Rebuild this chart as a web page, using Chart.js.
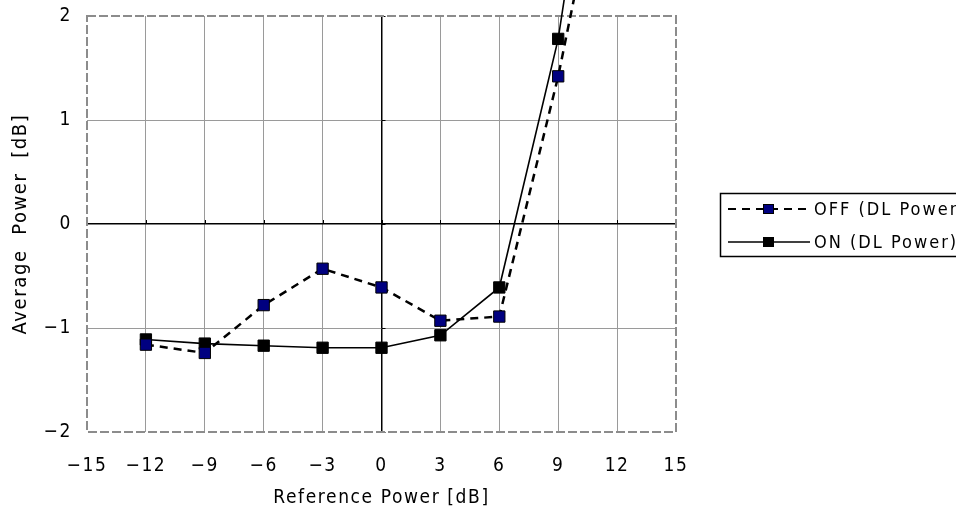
<!DOCTYPE html>
<html>
<head>
<meta charset="utf-8">
<script src="https://cdn.jsdelivr.net/npm/chart.js@4"></script>
<style>
  html, body { margin: 0; padding: 0; background: #fff; }
  #wrap { width: 956px; height: 511px; }
</style>
</head>
<body>
<div id="wrap"><canvas id="grafico"></canvas></div>
<script>
// dados
const potenciaRef = [-12, -9, -6, -3, 0, 3, 6, 9, 12];
const mediaOff = [-1.16, -1.24, -0.78, -0.43, -0.61, -0.93, -0.89, 1.42, 4.2];
const mediaOn = [-1.11, -1.15, -1.17, -1.19, -1.19, -1.07, -0.61, 1.78, 5.5];
const ticksX = [-15, -12, -9, -6, -3, 0, 3, 6, 9, 12, 15];
const ticksY = [-2, -1, 0, 1, 2];
const nomes = ["OFF (DL Power)", "ON (DL Power)"];

const fonte = '"Liberation Sans Narrow", "DejaVu Sans Condensed", "Noto Sans CJK JP", sans-serif';
const espaco = '1.6px';
const menos = v => String(v).replace('-', '\u2212');

const pontos = ys => potenciaRef.map((x, i) => ({ x: x, y: ys[i] }));

const corGrade = (ctx, limites) => {
    const v = ctx.tick.value;
    if (v === 0) return '#000';
    if (limites.includes(v)) return 'rgba(0,0,0,0)';
    return '#9a9a9a';
};

// moldura tracejada, marcas nos eixos e legenda
const extras = {
    id: 'extras',
    beforeLayout(chart) {
        chart.ctx.letterSpacing = espaco;
    },
    beforeDraw(chart) {
        chart.ctx.letterSpacing = espaco;
    },
    beforeDatasetsDraw(chart) {
        const { ctx, chartArea: a, scales } = chart;
        const x0 = scales.x.getPixelForValue(0);
        const y0 = scales.y.getPixelForValue(0);
        ctx.save();
        ctx.strokeStyle = '#000';
        ctx.lineWidth = 1;
        ticksY.forEach(v => {
            const y = Math.round(scales.y.getPixelForValue(v)) + 0.5;
            ctx.beginPath();
            ctx.moveTo(x0, y);
            ctx.lineTo(x0 + 4, y);
            ctx.stroke();
        });
        ticksX.forEach(v => {
            const x = Math.round(scales.x.getPixelForValue(v)) + 0.5;
            ctx.beginPath();
            ctx.moveTo(x, y0);
            ctx.lineTo(x, y0 - 4);
            ctx.stroke();
        });
        ctx.strokeStyle = '#8c8c8c';
        ctx.lineWidth = 2;
        ctx.setLineDash([9, 3]);
        ctx.strokeRect(a.left, a.top, a.right - a.left, a.bottom - a.top);
        ctx.restore();
    },
    afterDraw(chart) {
        const ctx = chart.ctx;
        ctx.save();
        ctx.strokeStyle = '#000';
        ctx.lineWidth = 1.5;
        ctx.strokeRect(720.5, 193.5, 250, 63);
        const linhas = [
            { y: 209, dash: [8, 6], lw: 2, cor: '#000080' },
            { y: 242, dash: [], lw: 1.5, cor: '#000' }
        ];
        linhas.forEach((l, i) => {
            ctx.setLineDash(l.dash);
            ctx.lineWidth = l.lw;
            ctx.beginPath();
            ctx.moveTo(728, l.y);
            ctx.lineTo(810, l.y);
            ctx.stroke();
            ctx.setLineDash([]);
            ctx.fillStyle = l.cor;
            ctx.lineWidth = 1;
            ctx.fillRect(763, l.y - 5, 11, 10);
            ctx.strokeRect(763.5, l.y - 4.5, 10, 9);
            ctx.fillStyle = '#000';
            ctx.font = '18px ' + fonte;
            ctx.letterSpacing = '2px';
            ctx.textBaseline = 'middle';
            ctx.fillText(nomes[i], 814, l.y + 1);
        });
        ctx.restore();
    }
};

new Chart(document.getElementById('grafico'), {
    type: 'scatter',
    data: {
        datasets: [
            {
                label: nomes[0],
                data: pontos(mediaOff),
                showLine: true,
                borderColor: '#000',
                borderWidth: 2.5,
                borderDash: [8, 6],
                pointStyle: 'rect',
                pointRadius: 8,
                pointBackgroundColor: '#000080',
                pointBorderColor: '#000',
                pointBorderWidth: 1,
                clip: { left: 0, right: 0, top: 16, bottom: 0 }
            },
            {
                label: nomes[1],
                data: pontos(mediaOn),
                showLine: true,
                borderColor: '#000',
                borderWidth: 1.6,
                pointStyle: 'rect',
                pointRadius: 8,
                pointBackgroundColor: '#000',
                pointBorderColor: '#000',
                pointBorderWidth: 1,
                clip: { left: 0, right: 0, top: 16, bottom: 0 }
            }
        ]
    },
    options: {
        responsive: true,
        maintainAspectRatio: false,
        animation: false,
        layout: { padding: { top: 16, right: 280, left: 0, bottom: 0 } },
        plugins: {
            legend: { display: false },
            tooltip: { enabled: false }
        },
        scales: {
            x: {
                type: 'linear',
                min: -15,
                max: 15,
                afterBuildTicks: s => { s.ticks = ticksX.map(v => ({ value: v })); },
                afterFit: s => { s.height = 79; s.paddingLeft = 0; s.paddingRight = 0; },
                ticks: {
                    color: '#000',
                    padding: 23,
                    maxRotation: 0,
                    font: { family: fonte, size: 19 },
                    callback: v => menos(v)
                },
                grid: {
                    drawTicks: false,
                    color: ctx => corGrade(ctx, [-15, 15]),
                    lineWidth: ctx => ctx.tick.value === 0 ? 1.5 : 1
                },
                border: { display: false },
                title: {
                    display: true,
                    text: 'Reference Power [dB]',
                    color: '#000',
                    font: { family: fonte, size: 19 },
                    padding: { top: 8, bottom: 2 }
                }
            },
            y: {
                type: 'linear',
                min: -2,
                max: 2,
                afterBuildTicks: s => { s.ticks = ticksY.map(v => ({ value: v })); },
                afterFit: s => { s.width = 87; s.paddingTop = 0; s.paddingBottom = 0; },
                ticks: {
                    color: '#000',
                    padding: 15,
                    font: { family: fonte, size: 19 },
                    callback: v => menos(v)
                },
                grid: {
                    drawTicks: false,
                    color: ctx => corGrade(ctx, [-2, 2]),
                    lineWidth: ctx => ctx.tick.value === 0 ? 1.5 : 1
                },
                border: { display: false },
                title: {
                    display: true,
                    text: 'Average  Power  [dB]',
                    color: '#000',
                    font: { family: fonte, size: 20 },
                    padding: { top: 9, bottom: 0 }
                }
            }
        }
    },
    plugins: [extras]
});
</script>
</body>
</html>
